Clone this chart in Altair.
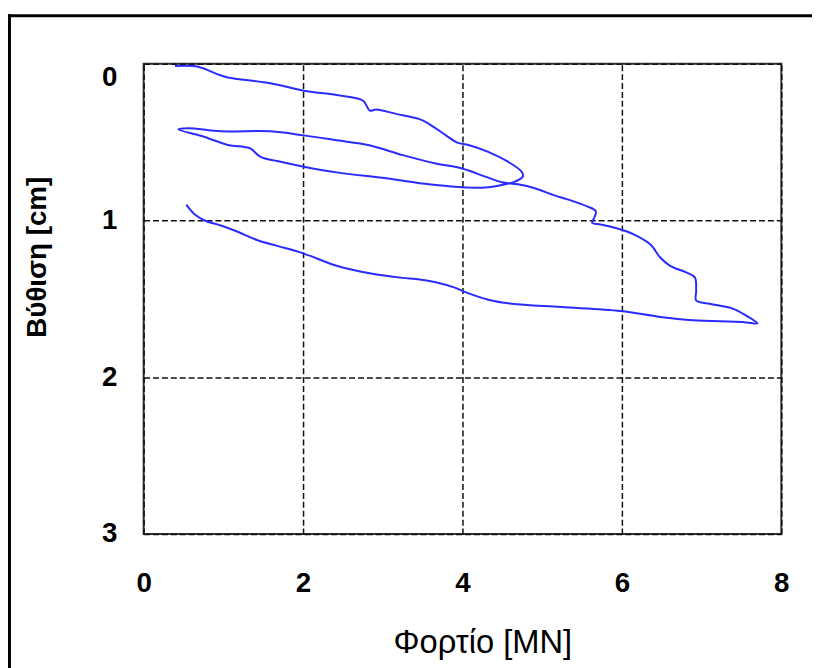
import altair as alt
import pandas as pd

# Load (MN) and settlement (cm), in drawing order
load_mn = [
    0.394, 0.683, 0.932, 1.056, 1.590, 2.009, 2.422, 2.754, 2.836, 2.919,
    3.168, 3.453, 3.578, 3.789, 3.934, 4.075, 4.323, 4.571, 4.742, 4.758,
    4.658, 4.493, 4.286, 4.075, 3.872, 3.578, 3.043, 2.422, 2.009, 1.677,
    1.466, 1.342, 1.263, 1.056, 0.766, 0.435,
    0.559, 0.969, 1.590, 2.009, 2.422, 2.832, 3.251, 3.665, 3.996, 4.286,
    4.493, 4.696, 4.907, 5.155, 5.317, 5.565, 5.673, 5.652, 5.627, 5.735,
    5.984, 6.149, 6.356, 6.481, 6.605, 6.807, 6.915, 6.932, 6.932, 7.102,
    7.391, 7.553, 7.702,
    7.516, 6.894, 6.481, 5.984, 5.238, 4.617, 4.323, 4.037, 3.913, 3.665,
    3.416, 3.251, 2.836, 2.422, 2.009, 1.677, 1.429, 1.180, 0.969, 0.766,
    0.642, 0.534,
]
settlement_cm = [
    0.015, 0.019, 0.068, 0.088, 0.124, 0.172, 0.200, 0.236, 0.299, 0.292,
    0.320, 0.352, 0.383, 0.455, 0.503, 0.518, 0.562, 0.625, 0.689, 0.720,
    0.752, 0.773, 0.790, 0.790, 0.783, 0.769, 0.731, 0.693, 0.657, 0.621,
    0.594, 0.541, 0.531, 0.518, 0.467, 0.419,
    0.411, 0.431, 0.431, 0.457, 0.488, 0.520, 0.583, 0.636, 0.668, 0.720,
    0.756, 0.769, 0.794, 0.840, 0.865, 0.910, 0.941, 0.984, 1.015, 1.025,
    1.057, 1.088, 1.152, 1.236, 1.289, 1.331, 1.363, 1.447, 1.510, 1.531,
    1.562, 1.605, 1.657,
    1.647, 1.636, 1.615, 1.577, 1.552, 1.531, 1.505, 1.457, 1.430, 1.394,
    1.373, 1.366, 1.337, 1.289, 1.211, 1.162, 1.126, 1.072, 1.032, 1.000,
    0.962, 0.899,
]

x_ticks = [0, 2, 4, 6, 8]
y_ticks = [0, 1, 2, 3]

df = pd.DataFrame({
    "load": load_mn,
    "settle": settlement_cm,
    "order": list(range(len(load_mn))),
})

FONT = "Liberation Sans"

line = alt.Chart(df).mark_line(
    color="#2b2bff", strokeWidth=2, interpolate="catmull-rom"
).encode(
    x=alt.X(
        "load:Q",
        scale=alt.Scale(domain=[0, 8], nice=False, zero=False),
        axis=alt.Axis(
            values=x_ticks,
            title="Φορτίο [MN]",
            titleFont=FONT,
            titleFontSize=33,
            titleFontWeight="normal",
            titleColor="#000",
            titleX=342,
            titleY=110,
            titleAlign="center",
            titleBaseline="middle",
            labelFont=FONT,
            labelFontSize=28,
            labelFontWeight="bold",
            labelColor="#000",
            labelPadding=36,
            labelFlush=False,
            ticks=False,
            tickSize=0,
            domain=False,
            grid=True,
            gridColor="#111",
            gridDash=[6, 3],
            gridWidth=1.5,
            gridOpacity=1,
        ),
    ),
    y=alt.Y(
        "settle:Q",
        scale=alt.Scale(domain=[0, 3], reverse=True, nice=False, zero=False),
        axis=alt.Axis(
            values=y_ticks,
            title="Βύθιση [cm]",
            titleFont=FONT,
            titleFontSize=28,
            titleFontWeight="bold",
            titleColor="#000",
            titleX=-107,
            titleY=195,
            titleAngle=270,
            titleAlign="center",
            titleBaseline="middle",
            labelFont=FONT,
            labelFontSize=28,
            labelFontWeight="bold",
            labelColor="#000",
            labelPadding=27,
            labelBaseline={"condition": {"test": "datum.value == 0", "value": "top"}, "value": "middle"},
            ticks=False,
            tickSize=0,
            domain=False,
            grid=True,
            gridColor="#111",
            gridDash=[6, 3],
            gridWidth=1.5,
            gridOpacity=1,
        ),
    ),
    order="order:Q",
)

frame_df = pd.DataFrame({"k": [0]})
frame_left = alt.Chart(frame_df).mark_rule(color="#000", strokeWidth=3).encode(
    x=alt.value(-135.5), y=alt.value(-50), y2=alt.value(700)
)
frame_top = alt.Chart(frame_df).mark_rule(color="#000", strokeWidth=3).encode(
    x=alt.value(-137), x2=alt.value(700), y=alt.value(-48.5)
)

chart = alt.layer(line, frame_left, frame_top).properties(
    width=644,
    height=475,
    autosize=alt.AutoSizeParams(type="none"),
    padding={"left": 137, "top": 53, "right": 31, "bottom": 132},
).configure(
    background="white"
).configure_view(
    stroke="#333", strokeWidth=2
)

chart.save("out.html", embed_options={"renderer": "svg", "actions": False})
